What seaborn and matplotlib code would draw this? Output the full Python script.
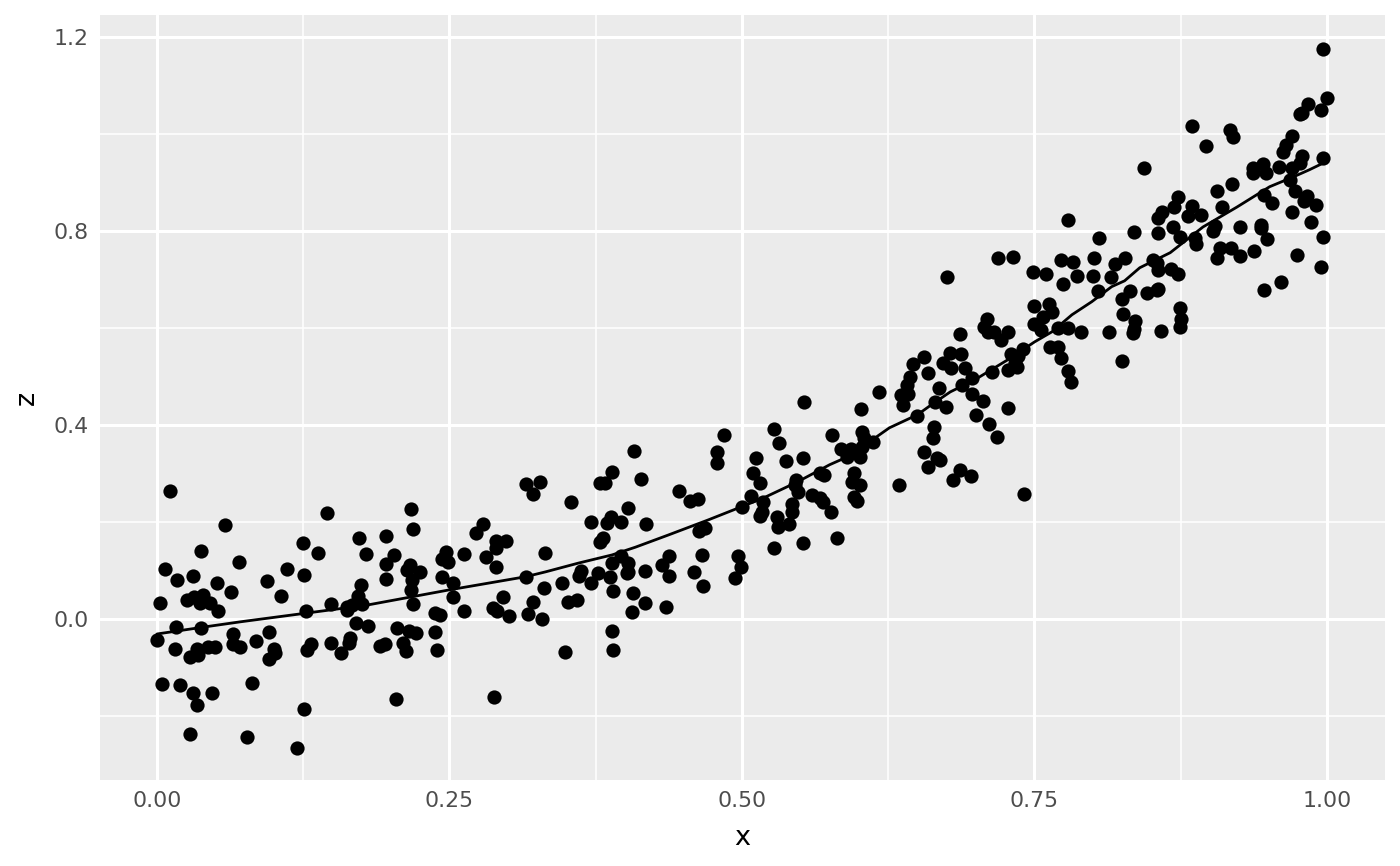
import numpy as np
import pandas as pd
import matplotlib
matplotlib.use("Agg")
import matplotlib.pyplot as plt
import seaborn as sns

# ---- scatter data (x, z) ----
pts_a = [(0.011,0.264),(0.145,0.219),(0.058,0.194),(0.125,0.157),(0.138,0.136),(0.038,0.140),(0.070,0.118),
 (0.007,0.103),(0.017,0.080),(0.031,0.089),(0.051,0.074),(0.063,0.056),(0.094,0.078),(0.111,0.103),(0.126,0.091),
 (0.106,0.047),(0.003,0.033),(0.026,0.039),(0.032,0.045),(0.039,0.049),(0.037,0.033),(0.045,0.033),(0.052,0.016),
 (0.127,0.016),(0.149,0.031),(0.162,0.019),(0.016,-0.016),(0.038,-0.019),(0.000,-0.043),(0.065,-0.031),(0.096,-0.027),
 (0.085,-0.045),(0.015,-0.062),(0.034,-0.062),(0.028,-0.078),(0.035,-0.074),(0.044,-0.058),(0.050,-0.058),(0.065,-0.052),
 (0.071,-0.058),(0.100,-0.062),(0.101,-0.070),(0.096,-0.082),(0.132,-0.052),(0.128,-0.064),(0.149,-0.049),(0.157,-0.070),
 (0.004,-0.134),(0.020,-0.136),(0.031,-0.153),(0.034,-0.177),(0.047,-0.153),(0.081,-0.132),(0.126,-0.186),(0.028,-0.237),
 (0.077,-0.243),(0.120,-0.266)]
pts_b = [(0.315,0.278),(0.327,0.282),(0.321,0.258),(0.217,0.227),(0.219,0.186),(0.279,0.196),(0.273,0.177),(0.173,0.167),
 (0.196,0.171),(0.179,0.134),(0.203,0.132),(0.196,0.113),(0.290,0.161),(0.298,0.161),(0.290,0.146),(0.247,0.138),(0.244,0.124),
 (0.249,0.118),(0.262,0.134),(0.281,0.128),(0.290,0.107),(0.216,0.111),(0.214,0.101),(0.225,0.097),(0.218,0.080),(0.217,0.060),
 (0.196,0.082),(0.244,0.087),(0.253,0.074),(0.174,0.070),(0.172,0.047),(0.253,0.045),(0.219,0.031),(0.162,0.025),(0.167,0.029),
 (0.175,0.031),(0.296,0.045),(0.315,0.087),(0.321,0.035),(0.332,0.136),(0.331,0.064),(0.238,0.012),(0.242,0.008),(0.262,0.016),
 (0.287,0.023),(0.291,0.016),(0.301,0.006),(0.317,0.010),(0.329,0.000),(0.170,-0.008),(0.180,-0.014),(0.205,-0.019),(0.215,-0.025),
 (0.221,-0.029),(0.238,-0.027),(0.165,-0.039),(0.164,-0.049),(0.191,-0.056),(0.195,-0.052),(0.210,-0.049),(0.213,-0.066),
 (0.239,-0.064),(0.204,-0.165),(0.288,-0.161)]
pts_c = [(0.485,0.379),(0.479,0.344),(0.479,0.322),(0.408,0.346),(0.389,0.303),(0.414,0.289),(0.379,0.280),(0.383,0.280),
 (0.354,0.241),(0.446,0.264),(0.456,0.243),(0.462,0.247),(0.403,0.229),(0.388,0.210),(0.385,0.198),(0.397,0.200),(0.371,0.200),
 (0.418,0.196),(0.381,0.167),(0.379,0.159),(0.468,0.188),(0.463,0.181),(0.397,0.130),(0.389,0.115),(0.403,0.115),(0.402,0.095),
 (0.403,0.097),(0.438,0.130),(0.432,0.111),(0.466,0.132),(0.362,0.099),(0.361,0.089),(0.377,0.095),(0.417,0.099),(0.438,0.089),
 (0.459,0.097),(0.371,0.074),(0.387,0.087),(0.346,0.074),(0.467,0.068),(0.390,0.058),(0.407,0.054),(0.351,0.035),(0.359,0.039),
 (0.417,0.033),(0.435,0.025),(0.406,0.014),(0.389,-0.025),(0.349,-0.068),(0.390,-0.064)]
pts_d = [(0.656,0.540),(0.646,0.526),(0.659,0.507),(0.644,0.499),(0.641,0.482),(0.642,0.464),(0.636,0.462),(0.638,0.441),
 (0.617,0.468),(0.650,0.419),(0.656,0.344),(0.659,0.313),(0.553,0.447),(0.602,0.433),(0.527,0.392),(0.532,0.363),(0.577,0.379),
 (0.603,0.386),(0.604,0.373),(0.612,0.365),(0.603,0.355),(0.601,0.334),(0.585,0.351),(0.593,0.351),(0.590,0.334),(0.512,0.332),
 (0.538,0.326),(0.552,0.332),(0.509,0.301),(0.515,0.280),(0.567,0.301),(0.570,0.297),(0.546,0.287),(0.545,0.276),(0.548,0.262),
 (0.596,0.301),(0.594,0.282),(0.601,0.276),(0.596,0.252),(0.598,0.243),(0.508,0.254),(0.500,0.231),(0.518,0.241),(0.517,0.221),
 (0.515,0.212),(0.560,0.256),(0.567,0.249),(0.569,0.241),(0.543,0.237),(0.543,0.221),(0.530,0.210),(0.531,0.190),(0.540,0.196),
 (0.576,0.221),(0.634,0.276),(0.581,0.167),(0.527,0.146),(0.552,0.157),(0.497,0.130),(0.499,0.107),(0.494,0.085)]
pts_e = [(0.779,0.823),(0.805,0.786),(0.719,0.744),(0.732,0.746),(0.675,0.705),(0.749,0.715),(0.760,0.711),(0.773,0.740),
 (0.783,0.736),(0.774,0.691),(0.786,0.707),(0.801,0.744),(0.800,0.707),(0.815,0.705),(0.819,0.732),(0.804,0.676),(0.825,0.660),
 (0.826,0.629),(0.750,0.645),(0.762,0.649),(0.765,0.633),(0.757,0.623),(0.750,0.608),(0.756,0.596),(0.770,0.600),(0.779,0.600),
 (0.790,0.592),(0.814,0.592),(0.825,0.532),(0.709,0.619),(0.707,0.602),(0.710,0.592),(0.715,0.592),(0.727,0.592),(0.721,0.575),
 (0.686,0.588),(0.763,0.561),(0.770,0.561),(0.773,0.538),(0.779,0.511),(0.781,0.489),(0.740,0.557),(0.736,0.542),(0.730,0.546),
 (0.733,0.528),(0.727,0.513),(0.735,0.520),(0.714,0.509),(0.678,0.548),(0.687,0.546),(0.672,0.528),(0.679,0.518),(0.691,0.518),
 (0.697,0.497),(0.668,0.476),(0.688,0.482),(0.665,0.447),(0.674,0.437),(0.697,0.464),(0.706,0.449),(0.700,0.421),(0.711,0.402),
 (0.727,0.435),(0.718,0.375),(0.664,0.396),(0.663,0.373),(0.667,0.332),(0.669,0.328),(0.686,0.307),(0.696,0.295),(0.680,0.287),
 (0.741,0.258)]
pts_f = [(0.997,1.175),(1.000,1.074),(0.984,1.062),(0.977,1.041),(0.979,1.043),(0.995,1.049),(0.885,1.016),(0.917,1.008),
 (0.920,0.994),(0.897,0.975),(0.970,0.996),(0.965,0.977),(0.962,0.963),(0.844,0.930),(0.979,0.955),(0.977,0.940),(0.970,0.930),
 (0.997,0.951),(0.937,0.930),(0.945,0.938),(0.948,0.920),(0.937,0.920),(0.959,0.932),(0.968,0.905),(0.919,0.897),(0.906,0.882),
 (0.973,0.882),(0.983,0.872),(0.980,0.862),(0.991,0.854),(0.946,0.874),(0.953,0.858),(0.873,0.870),(0.869,0.849),(0.885,0.852),
 (0.881,0.831),(0.892,0.833),(0.910,0.849),(0.859,0.839),(0.856,0.827),(0.970,0.839),(0.986,0.819),(0.835,0.798),(0.856,0.796),
 (0.868,0.808),(0.874,0.788),(0.887,0.786),(0.888,0.773),(0.904,0.810),(0.903,0.800),(0.926,0.808),(0.944,0.812),(0.944,0.806),
 (0.949,0.784),(0.997,0.788),(0.827,0.744),(0.851,0.740),(0.855,0.734),(0.856,0.720),(0.867,0.722),(0.873,0.711),(0.909,0.765),
 (0.918,0.765),(0.906,0.744),(0.926,0.748),(0.938,0.759),(0.974,0.751),(0.995,0.726),(0.961,0.695),(0.946,0.678),(0.832,0.676),
 (0.846,0.672),(0.856,0.680),(0.855,0.678),(0.836,0.614),(0.835,0.598),(0.834,0.590),(0.874,0.641),(0.875,0.619),(0.874,0.602),
 (0.858,0.594)]

# ---- fitted line ----
line_x = [0.0, 0.042, 0.071, 0.162, 0.176, 0.25, 0.315, 0.332, 0.360, 0.389, 0.409, 0.437, 0.471, 0.493, 0.518,
          0.547, 0.575, 0.590, 0.603, 0.626, 0.650, 0.661, 0.678, 0.699, 0.727, 0.750, 0.765, 0.782, 0.799, 0.816,
          0.827, 0.840, 0.866, 0.894, 0.923, 0.951, 0.971, 0.985, 0.997]
line_z = [-0.031, -0.016, -0.006, 0.023, 0.027, 0.060, 0.087, 0.097, 0.115, 0.132, 0.148, 0.173, 0.204, 0.225, 0.249,
          0.282, 0.318, 0.334, 0.355, 0.394, 0.421, 0.440, 0.468, 0.493, 0.534, 0.571, 0.592, 0.627, 0.654, 0.685,
          0.697, 0.724, 0.755, 0.808, 0.849, 0.891, 0.911, 0.926, 0.940]

x_ticks = [0.0, 0.25, 0.5, 0.75, 1.0]
x_labels = ["0.00", "0.25", "0.50", "0.75", "1.00"]
y_ticks = [0.0, 0.4, 0.8, 1.2]
y_labels = ["0.0", "0.4", "0.8", "1.2"]

pts = pts_a + pts_b + pts_c + pts_d + pts_e + pts_f
df = pd.DataFrame(pts, columns=["x", "z"])
line_df = pd.DataFrame({"x": line_x, "z": line_z})

sns.set_style("white")
plt.rcParams['font.family'] = ['DejaVu Sans']

fig = plt.figure(figsize=(14, 8.66), dpi=100)
ax = fig.add_axes([100/1400, 86/866, 1285/1400, 765/866])
ax.set_facecolor("#EBEBEB")

sns.scatterplot(data=df, x="x", y="z", color="black", s=105, linewidth=0, ax=ax, zorder=3)
sns.lineplot(data=line_df, x="x", y="z", color="black", linewidth=2.0, estimator=None, sort=True, ax=ax, zorder=4)

ax.set_xlim(-0.0487, 1.0496)
ax.set_ylim(-0.332, 1.245)
ax.set_xticks(x_ticks)
ax.set_xticklabels(x_labels)
ax.set_yticks(y_ticks)
ax.set_yticklabels(y_labels)
ax.set_xticks([0.125, 0.375, 0.625, 0.875], minor=True)
ax.set_yticks([-0.2, 0.2, 0.6, 1.0], minor=True)
ax.grid(which="major", color="white", linewidth=2.2, zorder=0)
ax.grid(which="minor", color="white", linewidth=1.1, zorder=0)
ax.set_axisbelow(True)
for s in ax.spines.values():
    s.set_visible(False)
ax.tick_params(axis="both", which="major", length=5, width=1.6, color="#333333",
               labelcolor="#4D4D4D", labelsize=15.8, pad=3)
ax.tick_params(axis="both", which="minor", length=0)
ax.set_xlabel("x", fontsize=19.5, color="black", labelpad=10)
ax.set_ylabel("z", fontsize=19.5, color="black", labelpad=10)

fig.savefig("out.png", dpi=100, facecolor="white")
